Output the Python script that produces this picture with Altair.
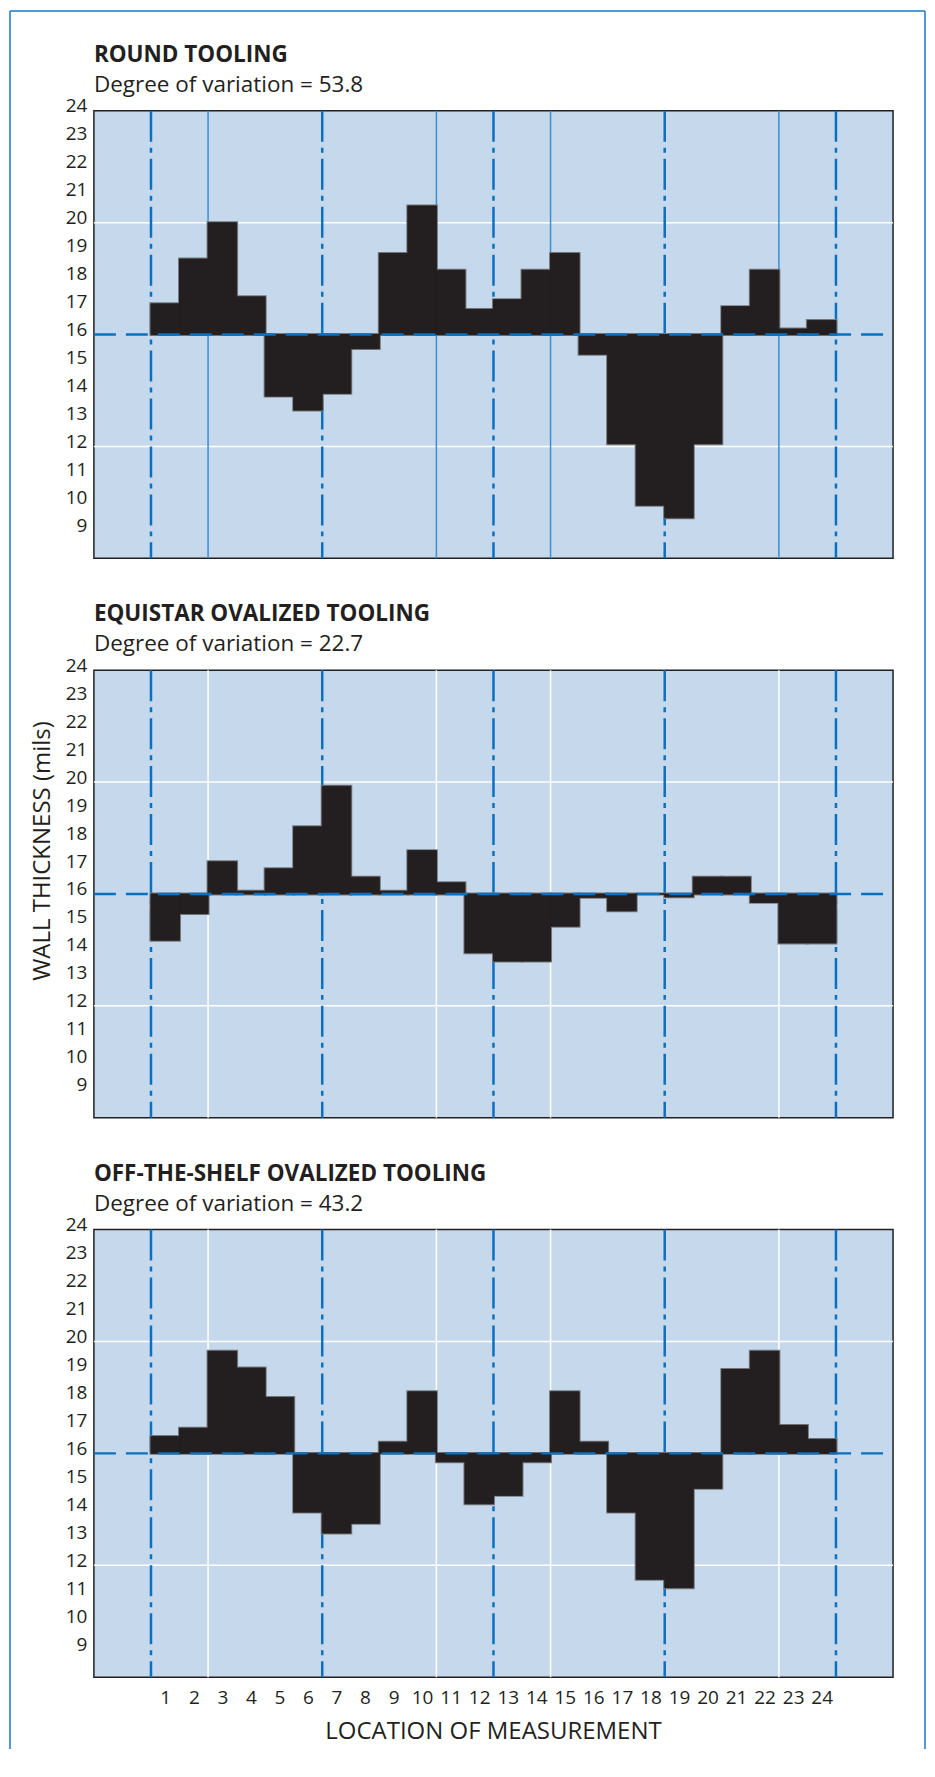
import altair as alt
import pandas as pd

# ---------------- data ----------------
locations = list(range(1, 25))
round_vals = [17.1, 18.7, 20.0, 17.35, 13.8, 13.3, 13.9, 15.5, 18.9, 20.6, 18.3, 16.9,
              17.25, 18.3, 18.9, 15.3, 12.1, 9.9, 9.45, 12.1, 17.0, 18.3, 16.2, 16.5]
equistar_vals = [14.35, 15.3, 17.15, 16.1, 16.9, 18.4, 19.85, 16.6, 16.1, 17.55, 16.4, 13.9,
                 13.6, 13.6, 14.85, 15.88, 15.4, 16.0, 15.9, 16.6, 16.6, 15.7, 14.25, 14.25]
shelf_vals = [16.6, 16.9, 19.65, 19.05, 18.0, 13.9, 13.15, 13.5, 16.4, 18.2, 15.7, 14.2,
              14.5, 15.7, 18.2, 16.4, 13.9, 11.5, 11.2, 14.75, 19.0, 19.65, 17.0, 16.5]
panel_titles = ["ROUND TOOLING", "EQUISTAR OVALIZED TOOLING", "OFF-THE-SHELF OVALIZED TOOLING"]
panel_subtitles = ["Degree of variation = 53.8", "Degree of variation = 22.7",
                   "Degree of variation = 43.2"]
y_ticks = list(range(9, 25))
y_grid = [12, 20]
nominal = [16]
section_edges = [0.5, 6.5, 12.5, 18.5, 24.5]
minor_edges = [2.5, 10.5, 14.5, 22.5]
x_title = ["LOCATION OF MEASUREMENT"]
y_title = ["WALL THICKNESS (mils)"]

# ---------------- style ----------------
W, H = 800, 448
FONT = "Open Sans"
INK = "#231f20"
BLUE = "#0b70c0"
LIGHTBLUE = "#3d8fd1"
BG = "#c6d8ec"
xscale = alt.Scale(domain=[-1.5, 26.5], nice=False, zero=False)
yscale = alt.Scale(domain=[8, 24], nice=False, zero=False)

yaxis = alt.Axis(values=y_ticks, ticks=False, domain=False, grid=False,
                 labelFontSize=19, labelFont=FONT, labelColor=INK, labelPadding=7,
                 labelOffset=-5, labelFlush=False, labelOverlap=False, title=None)
xaxis = alt.Axis(values=locations, ticks=False, domain=False, grid=False,
                 labelFontSize=19, labelFont=FONT, labelColor=INK, labelPadding=11,
                 labelAngle=0, labelFlush=False, labelOverlap=False, format="d", title=None)


def panel(idx, vals, minor_color, show_x, extra=None):
    xa = xaxis if show_x else None
    df = pd.DataFrame({"loc": locations, "val": vals})
    grid = alt.Chart(pd.DataFrame({"g": y_grid})).mark_rule(
        color="white", strokeWidth=1.5).encode(
        y=alt.Y("g:Q", scale=yscale, axis=yaxis, title=None), x=alt.value(0), x2=alt.value(W))
    minor = alt.Chart(pd.DataFrame({"e": minor_edges})).mark_rule(
        color=minor_color, strokeWidth=1.5).encode(
        x=alt.X("e:Q", scale=xscale, axis=xa, title=None), y=alt.value(0), y2=alt.value(H))
    major = alt.Chart(pd.DataFrame({"e": section_edges})).mark_rule(
        color=BLUE, strokeWidth=2.5, strokeDash=[31, 6, 5, 6]).encode(
        x=alt.X("e:Q", scale=xscale, axis=xa, title=None), y=alt.value(0), y2=alt.value(H))
    bar_base = alt.Chart(df).transform_calculate(
        x0="datum.loc - 0.5", x1="datum.loc + 0.5", base="16")
    bar_enc = dict(
        x=alt.X("x0:Q", scale=xscale, axis=xa, title=None),
        x2="x1:Q",
        y=alt.Y("val:Q", scale=yscale, axis=yaxis, title=None),
        y2="base:Q")
    # grey outline underneath; black fill (with black stroke to hide seams) on top
    bars_outline = bar_base.mark_rect(fill=INK, stroke="#77787b", strokeWidth=3).encode(**bar_enc)
    bars_fill = bar_base.mark_rect(fill=INK, stroke=INK, strokeWidth=1).encode(**bar_enc)
    mid = alt.Chart(pd.DataFrame({"n": nominal})).mark_rule(
        color=BLUE, strokeWidth=2.5, strokeDash=[22, 10]).encode(
        y=alt.Y("n:Q", scale=yscale, axis=yaxis, title=None), x=alt.value(0), x2=alt.value(790))
    title = alt.Chart(pd.DataFrame({"t": [panel_titles[idx]]})).mark_text(
        align="left", baseline="alphabetic", font=FONT, fontSize=22.5, fontWeight="bold",
        color=INK).encode(text="t:N", x=alt.value(0), y=alt.value(-49))
    sub = alt.Chart(pd.DataFrame({"t": [panel_subtitles[idx]]})).mark_text(
        align="left", baseline="alphabetic", font=FONT, fontSize=22.5, color=INK).encode(
        text="t:N", x=alt.value(0), y=alt.value(-19))
    layers = [grid, minor, major, bars_outline, bars_fill, mid, title, sub]
    if extra:
        layers += extra
    return alt.layer(*layers).properties(width=W, height=H)


one = pd.DataFrame({"a": [0]})
FRAME = "#1a78c2"
BOTTOM = 1640
frame = [
    alt.Chart(one).mark_rule(color=FRAME, strokeWidth=1.5).encode(
        x=alt.value(-84), y=alt.value(-100), y2=alt.value(BOTTOM)),
    alt.Chart(one).mark_rule(color=FRAME, strokeWidth=1.5).encode(
        x=alt.value(-84), x2=alt.value(832), y=alt.value(-100)),
    alt.Chart(one).mark_rule(color=FRAME, strokeWidth=1.5).encode(
        x=alt.value(832), y=alt.value(-100), y2=alt.value(BOTTOM)),
]

ytitle = [alt.Chart(pd.DataFrame({"t": y_title})).mark_text(
    align="center", baseline="middle", angle=270, font=FONT, fontSize=24, color=INK).encode(
    text="t:N", x=alt.value(-51), y=alt.value(181))]

xtitle = [alt.Chart(pd.DataFrame({"t": x_title})).mark_text(
    align="center", baseline="alphabetic", font=FONT, fontSize=24, color=INK).encode(
    text="t:N", x=alt.value(W / 2), y=alt.value(H + 62))]

p1 = panel(0, round_vals, LIGHTBLUE, False, frame)
p2 = panel(1, equistar_vals, "white", False, ytitle)
p3 = panel(2, shelf_vals, "white", True, xtitle)

chart = alt.vconcat(p1, p2, p3, spacing=112, bounds="flush").properties(
    padding=0, background="white"
).configure_view(fill=BG, stroke=INK, strokeWidth=1.5)

chart.save("out.html", embed_options={"renderer": "svg", "actions": False})
